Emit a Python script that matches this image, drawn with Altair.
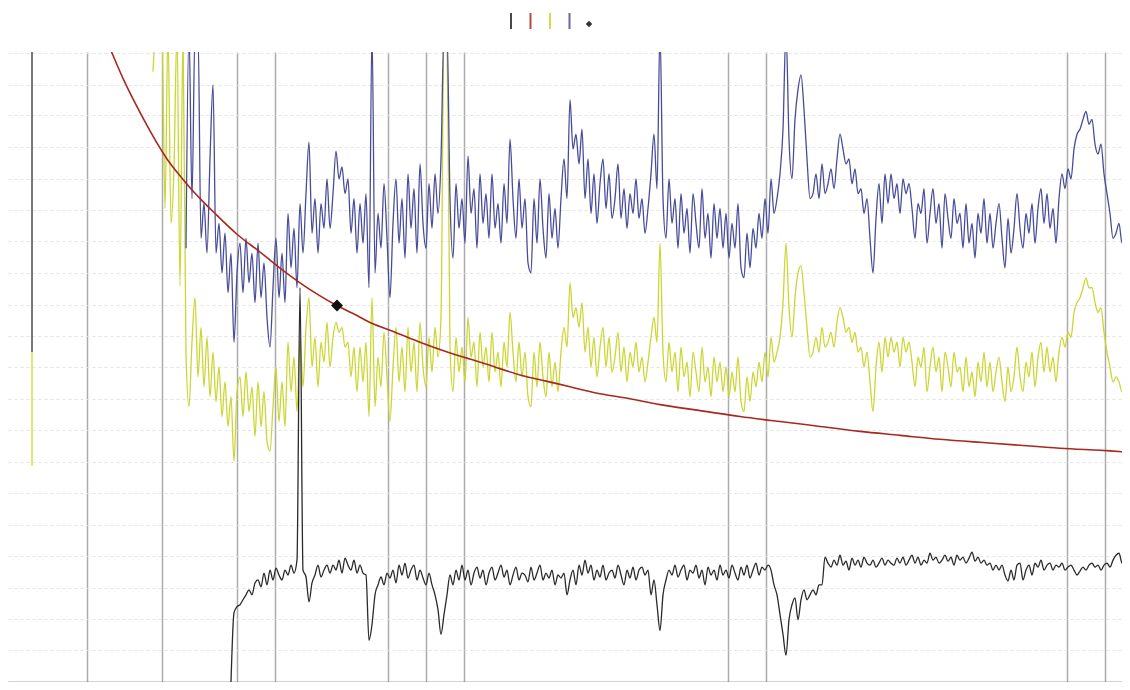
import altair as alt
import pandas as pd

# ---------------- data ----------------
# channel axis: first sample and spacing of the sampled traces
blue_x0, yellow_x0, black_x0, step = 186, 153, 231, 3

blue_y = [438, 658, 488, 658, 658, 448, 483, 433, 528, 603, 433, 463, 413, 453, 393, 433, 343, 413,
          443, 393, 448, 403, 433, 383, 443, 388, 423, 368, 338, 398, 448, 388, 433, 383, 473, 418,
          458, 398, 483, 433, 493, 545, 453, 488, 433, 483, 458, 508, 458, 493, 536, 508, 520, 493,
          508, 453, 488, 433, 483, 443, 493, 398, 658, 413, 473, 438, 503, 448, 388, 463, 508, 443,
          488, 428, 513, 458, 498, 433, 523, 463, 438, 503, 458, 513, 473, 528, 658, 658, 488, 428,
          503, 458, 488, 443, 531, 473, 498, 438, 513, 463, 493, 448, 513, 458, 483, 443, 503, 463,
          548, 488, 448, 508, 458, 488, 423, 413, 488, 443, 508, 458, 428, 493, 448, 478, 438, 488,
          528, 488, 588, 538, 553, 523, 558, 488, 528, 473, 513, 463, 503, 528, 478, 513, 468, 488,
          523, 468, 498, 458, 493, 473, 508, 468, 488, 453, 478, 513, 553, 498, 658, 488, 448, 508,
          463, 488, 438, 493, 453, 478, 433, 493, 463, 438, 498, 448, 473, 428, 483, 448, 478, 438,
          473, 428, 463, 438, 483, 418, 408, 453, 418, 458, 438, 473, 448, 488, 453, 508, 473, 488,
          513, 558, 658, 548, 508, 568, 598, 613, 578, 528, 488, 493, 513, 488, 523, 493, 503, 518,
          498, 528, 553, 538, 523, 528, 503, 518, 493, 498, 473, 488, 448, 413, 468, 503, 463, 513,
          483, 513, 488, 503, 473, 508, 493, 503, 478, 448, 483, 473, 498, 443, 473, 498, 463, 483,
          438, 493, 468, 448, 488, 463, 473, 438, 483, 443, 463, 428, 473, 453, 488, 443, 473, 438,
          463, 483, 448, 418, 468, 433, 458, 493, 458, 438, 473, 453, 483, 443, 478, 498, 463, 493,
          458, 478, 443, 488, 513, 498, 518, 508, 538, 553, 558, 568, 576, 563, 568, 543, 533, 543,
          513, 493, 473, 448, 453, 463, 443, 448, 428]

yellow_y = [616, 658, 658, 658, 478, 658, 463, 520, 658, 400, 658, 330, 278, 343, 388, 308, 358, 298,
            348, 288, 333, 283, 318, 268, 303, 258, 288, 223, 293, 308, 268, 313, 273, 298, 248, 303,
            258, 293, 243, 233, 278, 318, 263, 303, 258, 343, 293, 328, 273, 348, 298, 358, 388, 318,
            348, 298, 343, 323, 363, 318, 348, 363, 353, 358, 338, 343, 308, 338, 293, 338, 303, 343,
            268, 388, 278, 328, 298, 353, 308, 263, 318, 358, 303, 338, 293, 358, 313, 343, 293, 363,
            318, 298, 348, 313, 358, 328, 368, 658, 658, 338, 293, 348, 313, 338, 303, 368, 328, 343,
            298, 353, 318, 338, 303, 353, 313, 333, 298, 343, 318, 373, 333, 303, 343, 308, 333, 288,
            278, 333, 298, 343, 308, 288, 333, 298, 323, 293, 333, 358, 338, 403, 368, 378, 358, 383,
            333, 358, 318, 348, 308, 338, 358, 318, 348, 313, 328, 353, 313, 338, 303, 333, 318, 343,
            313, 328, 303, 323, 348, 368, 343, 443, 333, 303, 343, 313, 333, 293, 338, 308, 323, 288,
            333, 313, 293, 338, 303, 318, 288, 328, 303, 323, 293, 318, 288, 313, 293, 328, 283, 273,
            308, 283, 313, 298, 323, 303, 333, 308, 348, 323, 333, 348, 383, 443, 378, 348, 388, 413,
            420, 393, 358, 328, 333, 348, 333, 358, 338, 343, 353, 338, 363, 378, 368, 353, 358, 343,
            353, 333, 338, 318, 333, 303, 273, 318, 343, 313, 348, 328, 348, 333, 343, 318, 348, 333,
            343, 323, 298, 328, 318, 338, 293, 318, 338, 313, 328, 293, 333, 318, 298, 333, 313, 318,
            293, 328, 298, 313, 288, 323, 303, 333, 298, 323, 293, 313, 328, 303, 283, 318, 293, 308,
            338, 308, 293, 323, 308, 333, 298, 328, 343, 313, 338, 313, 328, 303, 333, 348, 338, 353,
            348, 373, 383, 388, 398, 408, 398, 398, 383, 373, 378, 353, 333, 318, 303, 308, 303, 293,
            293, 283]

black_y = [0, 70, 76, 78, 83, 88, 93, 88, 100, 103, 96, 110, 98, 113, 103, 115, 108, 103, 113, 108,
           118, 110, 123, 398, 113, 106, 81, 100, 108, 118, 106, 113, 118, 110, 118, 113, 123, 110,
           125, 118, 113, 123, 110, 118, 110, 108, 42, 58, 88, 98, 106, 98, 110, 105, 113, 100, 118,
           108, 120, 105, 113, 118, 103, 113, 105, 98, 110, 98, 88, 73, 48, 68, 88, 108, 98, 113, 103,
           118, 103, 113, 98, 110, 116, 105, 113, 98, 110, 116, 103, 110, 118, 106, 113, 98, 108, 116,
           103, 110, 108, 101, 116, 103, 110, 118, 103, 110, 105, 113, 98, 108, 105, 110, 88, 103, 113,
           98, 118, 108, 123, 110, 118, 103, 113, 106, 118, 103, 110, 113, 105, 118, 108, 98, 113, 105,
           116, 103, 113, 116, 108, 113, 88, 103, 78, 52, 88, 103, 113, 108, 118, 106, 113, 118, 103,
           113, 110, 118, 105, 113, 98, 116, 108, 113, 103, 118, 108, 113, 105, 118, 110, 103, 116,
           108, 118, 105, 113, 120, 108, 116, 113, 118, 113, 98, 88, 68, 48, 27, 63, 78, 85, 63, 83,
           93, 83, 88, 93, 88, 98, 98, 126, 120, 116, 123, 118, 128, 118, 122, 113, 125, 118, 123,
           116, 126, 120, 118, 123, 116, 120, 125, 118, 123, 120, 118, 125, 120, 126, 118, 123, 128,
           120, 126, 118, 123, 120, 130, 123, 126, 120, 123, 128, 122, 126, 118, 128, 123, 126, 120,
           125, 131, 122, 126, 120, 123, 118, 120, 113, 118, 113, 118, 108, 102, 113, 103, 118, 120,
           103, 113, 118, 108, 120, 116, 123, 113, 118, 120, 113, 118, 116, 120, 113, 116, 118, 113,
           108, 112, 116, 113, 118, 120, 116, 118, 113, 118, 120, 116, 123, 128, 130, 120, 118, 116]

fit_x = [100, 112, 125, 140, 153, 167, 180, 190, 203, 217, 237, 255, 270, 285, 300, 318, 337, 355,
         370, 395, 420, 445, 470, 495, 520, 545, 570, 600, 630, 660, 700, 740, 780, 820, 860, 900,
         940, 980, 1020, 1060, 1100, 1128]
fit_y = [662, 635, 605, 575, 551, 528, 511, 499, 485, 471, 452, 438, 426, 414, 403, 391, 380, 371,
         363, 353, 343, 334, 326, 318, 310, 304, 298, 291, 286, 280, 274, 268, 263, 258, 253, 249,
         245, 242, 239, 236, 234, 232]

marker_x, marker_y = [337], [380]

# short trace at the left edge (start, split, end levels)
edge_x = [32, 32]
edge_top = [636, 333]
edge_bottom = [333, 218]
edge_kind = ["Baseline", "Spectrum B"]

grid_x = [87, 162, 237, 275, 388, 426, 464, 728, 766, 1067, 1105]
grid_y = [32, 64, 95, 127, 159, 191, 222, 254, 286, 318, 349, 381, 413, 445, 476, 508, 540, 572,
          603, 635]

series = ["Baseline", "Fit", "Spectrum B", "Spectrum A", "Marker"]
colors = ["#2a2a2a", "#a8281e", "#cbd634", "#484c98", "#111111"]
shapes = ["M0,-1L0,1", "M0,-1L0,1", "M0,-1L0,1", "M0,-1L0,1", "M0,-0.23L0.23,0L0,0.23L-0.23,0Z"]

# ---------------- tables ----------------
def trace(name, x0, ys):
    return pd.DataFrame({"series": name, "x": [x0 + step * i for i in range(len(ys))], "y": ys})

traces = pd.concat([trace("Spectrum B", yellow_x0, yellow_y),
                    trace("Spectrum A", blue_x0, blue_y),
                    trace("Baseline", black_x0, black_y)], ignore_index=True)
traces["order"] = traces.index
fit = pd.DataFrame({"series": "Fit", "x": fit_x, "y": fit_y})
marker = pd.DataFrame({"series": "Marker", "x": marker_x, "y": marker_y})
edge = pd.DataFrame({"series": edge_kind, "x": edge_x, "y": edge_top, "y2": edge_bottom})

# ---------------- encodings ----------------
xs = alt.Scale(domain=[8, 1122], nice=False, zero=False)
ys = alt.Scale(domain=[0, 636], nice=False, zero=False)
x_axis = alt.Axis(values=grid_x, grid=True, gridColor="#ababab", gridWidth=1.5, gridOpacity=1,
                  domain=True, domainColor="#555555", domainWidth=1.5, ticks=False, labels=False,
                  title=None)
y_axis = alt.Axis(values=grid_y, grid=True, gridColor="#e3e3e3", gridWidth=1, gridDash=[3, 3],
                  domain=False, ticks=False, labels=False, title=None)
X = alt.X("x:Q", scale=xs, axis=x_axis)
Y = alt.Y("y:Q", scale=ys, axis=y_axis)

legend = alt.Legend(title=None, orient="none", legendX=494, legendY=-40, direction="horizontal",
                    columns=5, labelExpr="''", labelOffset=0, symbolSize=256, symbolStrokeWidth=2,
                    columnPadding=1.5, padding=0, rowPadding=0)
C = alt.Color("series:N", scale=alt.Scale(domain=series, range=colors), legend=legend)
S = alt.Shape("series:N", scale=alt.Scale(domain=series, range=shapes), legend=legend)

edge_layer = alt.Chart(edge).mark_rule(strokeWidth=1.5, opacity=0.85).encode(
    x=X, y=Y, y2="y2:Q", color=C)
trace_layer = alt.Chart(traces).mark_line(strokeWidth=1.3, interpolate="monotone", clip=True).encode(
    x=X, y=Y, color=C, detail="series:N", order="order:Q")
fit_layer = alt.Chart(fit).mark_line(strokeWidth=1.6, interpolate="natural", clip=True).encode(
    x=X, y=Y, color=C)
marker_layer = alt.Chart(marker).mark_point(filled=True, size=2700, opacity=1).encode(
    x=X, y=Y, color=C, shape=S)

chart = alt.layer(edge_layer, trace_layer, fit_layer, marker_layer).properties(
    width=1114, height=630,
    padding={"left": 0, "top": 44, "right": 0, "bottom": 0},
    autosize=alt.AutoSizeParams(type="none"),
    background="white",
).configure_view(stroke=None)

chart.save("out.html", embed_options={"renderer": "svg", "actions": False})
